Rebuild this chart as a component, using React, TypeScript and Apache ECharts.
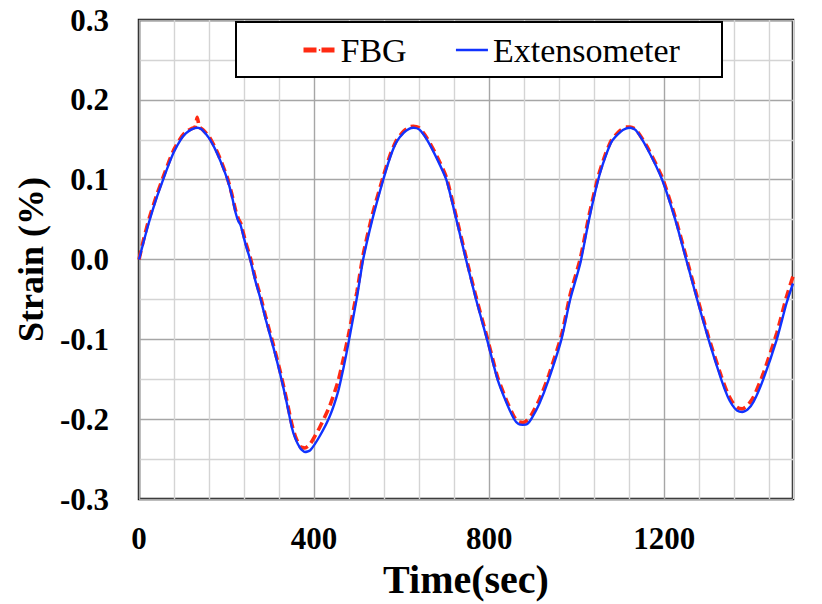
import React, { useEffect, useRef } from "react";
import * as echarts from "echarts";

const timeSec = [
  0, 10, 23, 40, 57, 70, 80, 95, 107, 120, 128, 133, 138, 145, 160, 175, 187, 202, 212, 221,
  227, 232, 244, 254, 266, 278, 290, 307, 322, 337, 349, 357, 368, 379, 391, 413, 436, 455, 467, 478,
  498, 512, 533, 558, 575, 589, 605, 618, 627, 640, 658, 680, 702, 725, 747, 770, 795, 819, 840,
  857, 867, 877, 887, 897, 915, 936, 965, 985, 1008, 1028, 1049, 1065, 1080, 1100, 1112, 1122, 1135, 1160, 1195,
  1225, 1250, 1275, 1301, 1330, 1345, 1355, 1366, 1378, 1390, 1404, 1426, 1457, 1479, 1494,
];

const extensometer = [
  0.0, 0.021, 0.047, 0.077, 0.103, 0.122, 0.135, 0.15, 0.158, 0.163, 0.1645, 0.165, 0.1645, 0.162, 0.152, 0.137, 0.122, 0.1, 0.08, 0.058,
  0.048, 0.043, 0.018, 0.0, -0.027, -0.05, -0.076, -0.11, -0.142, -0.178, -0.21, -0.224, -0.236, -0.241, -0.239, -0.221, -0.196, -0.165, -0.136, -0.106,
  -0.047, 0.0, 0.05, 0.1, 0.13, 0.148, 0.159, 0.164, 0.165, 0.163, 0.15, 0.127, 0.1, 0.05, 0.0, -0.05, -0.1, -0.15, -0.18,
  -0.2, -0.206, -0.207, -0.206, -0.199, -0.18, -0.15, -0.1, -0.05, -0.005, 0.05, 0.1, 0.128, 0.148, 0.16, 0.164, 0.165, 0.162, 0.14, 0.1,
  0.05, 0.0, -0.05, -0.1, -0.15, -0.172, -0.182, -0.189, -0.191, -0.188, -0.178, -0.15, -0.1, -0.055, -0.03,
];

const fbg = [
  0.0, 0.024, 0.051, 0.08, 0.106, 0.125, 0.138, 0.152, 0.16, 0.164, 0.166, 0.178, 0.166, 0.163, 0.154, 0.139, 0.124, 0.102, 0.082, 0.061,
  0.051, 0.046, 0.021, 0.003, -0.024, -0.047, -0.073, -0.107, -0.139, -0.175, -0.206, -0.221, -0.234, -0.236, -0.231, -0.21, -0.183, -0.152, -0.124, -0.096,
  -0.04, 0.006, 0.056, 0.104, 0.133, 0.15, 0.161, 0.166, 0.167, 0.165, 0.152, 0.13, 0.103, 0.053, 0.003, -0.047, -0.097, -0.147, -0.177,
  -0.197, -0.203, -0.204, -0.201, -0.194, -0.175, -0.145, -0.095, -0.044, 0.001, 0.055, 0.104, 0.131, 0.15, 0.162, 0.166, 0.166, 0.163, 0.142, 0.103,
  0.053, 0.003, -0.047, -0.097, -0.146, -0.168, -0.178, -0.185, -0.187, -0.183, -0.172, -0.143, -0.092, -0.047, -0.021,
];

const seriesNames = ["FBG", "Extensometer"];
const xAxisTitle = "Time(sec)";
const yAxisTitle = "Strain (%)";

const SERIF = "'Liberation Serif', 'Times New Roman', serif";
const RED = "#ff2a12";
const BLUE = "#1133ff";

export default function App() {
  const ref = useRef<HTMLDivElement>(null);

  useEffect(() => {
    if (!ref.current) return;
    const chart = echarts.init(ref.current, undefined, { renderer: "svg" });
    const fbgData = timeSec.map((t, i) => [t, fbg[i]]);
    const extData = timeSec.map((t, i) => [t, extensometer[i]]);

    chart.setOption({
      animation: false,
      backgroundColor: "#ffffff",
      grid: {
        left: 139,
        right: 29,
        top: 20,
        bottom: 99,
        show: true,
        borderColor: "#1a1a1a",
        borderWidth: 2.5,
        backgroundColor: "transparent",
        containLabel: false,
      },
      graphic: [
        {
          type: "rect",
          z: 5,
          shape: { x: 236, y: 22, width: 486, height: 55 },
          style: { fill: "#ffffff", stroke: "#000000", lineWidth: 2 },
        },
      ],
      legend: {
        z: 10,
        left: 301,
        top: 33,
        padding: 0,
        itemWidth: 32,
        itemHeight: 2,
        itemGap: 48,
        data: [
          { name: seriesNames[0], lineStyle: { width: 5, type: [13, 5], color: RED } },
          { name: seriesNames[1], lineStyle: { width: 2.6, type: "solid", color: BLUE } },
        ],
        textStyle: { fontFamily: SERIF, fontSize: 34, color: "#000" },
      },
      xAxis: {
        type: "value",
        min: 0,
        max: 1494,
        interval: 80,
        axisLine: { show: false },
        axisTick: { show: false },
        axisLabel: {
          showMaxLabel: false,
          margin: 24,
          fontFamily: SERIF,
          fontWeight: "bold",
          fontSize: 31,
          color: "#000",
          formatter: (v: number) => (Math.round(v) % 400 === 0 ? String(Math.round(v)) : ""),
        },
        splitLine: {
          show: true,
          lineStyle: { color: ["#a6a6a6", "#d4d4d4", "#d4d4d4", "#d4d4d4", "#d4d4d4"], width: 1.4 },
        },
        name: xAxisTitle,
        nameLocation: "middle",
        nameGap: 57,
        nameTextStyle: { fontFamily: SERIF, fontWeight: "bold", fontSize: 40, color: "#000" },
      },
      yAxis: {
        type: "value",
        min: -0.3,
        max: 0.3,
        interval: 0.05,
        axisLine: { show: false },
        axisTick: { show: false },
        axisLabel: {
          margin: 30,
          fontFamily: SERIF,
          fontWeight: "bold",
          fontSize: 31,
          color: "#000",
          formatter: (v: number) => {
            const k = v * 10;
            if (Math.abs(Math.round(k) - k) > 1e-6) return "";
            return (Math.round(k) / 10).toFixed(1);
          },
        },
        splitLine: {
          show: true,
          lineStyle: { color: ["#a6a6a6", "#d4d4d4"], width: 1.4 },
        },
        name: yAxisTitle,
        nameLocation: "middle",
        nameGap: 90,
        nameTextStyle: { fontFamily: SERIF, fontWeight: "bold", fontSize: 36, color: "#000" },
      },
      series: [
        {
          name: seriesNames[0],
          type: "line",
          data: fbgData,
          showSymbol: false,
          symbol: "none",
          smooth: 0.2,
          z: 2,
          lineStyle: { color: RED, width: 3.6, type: [9, 5] },
          itemStyle: { color: RED },
        },
        {
          name: seriesNames[1],
          type: "line",
          data: extData,
          showSymbol: false,
          symbol: "none",
          smooth: 0.2,
          z: 3,
          lineStyle: { color: BLUE, width: 2.4, type: "solid" },
          itemStyle: { color: BLUE },
        },
      ],
    });

    return () => chart.dispose();
  }, []);

  return (
    <div
      ref={ref}
      style={{ position: "absolute", left: 0, top: 0, width: 822, height: 604 }}
    />
  );
}
